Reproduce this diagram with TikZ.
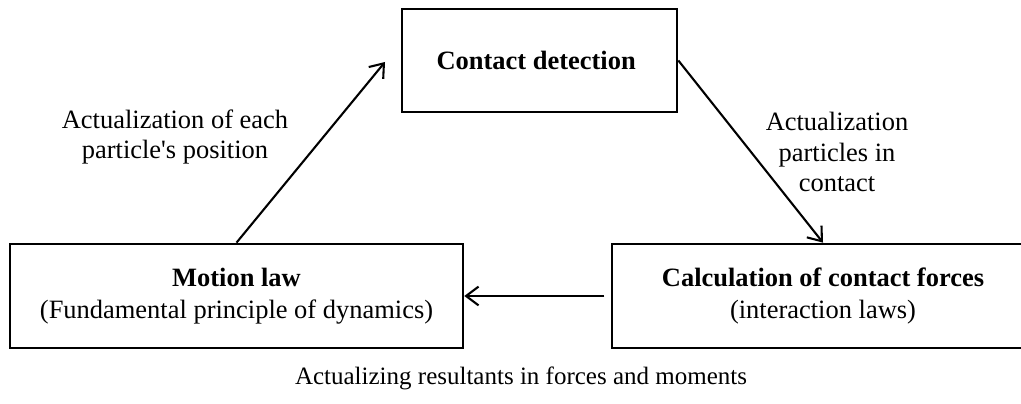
\documentclass[tikz,border=0pt]{standalone}
\usepackage{fontspec}
\setmainfont{Liberation Serif}
\usetikzlibrary{arrows.meta,positioning}

\tikzset{
    stagebox/.style={rectangle, draw=black, line width=1.3pt, align=center,
        font=\fontsize{12.7}{15.5}\selectfont, inner sep=0pt},
    flowlabel/.style={align=center, font=\fontsize{12.7}{14.6}\selectfont, inner sep=0pt},
    flowarrow/.style={line width=1pt, -{Straight Barb[length=6pt,width=9pt,line width=1pt]}}
}

\begin{document}
\begin{tikzpicture}[x=0.48pt, y=-0.48pt]
    \clip (0,0) rectangle (1021,404);

    % Contact detection
    \node[stagebox, minimum width=132pt, minimum height=49.4pt] (contact) at (539.5,60.5) {
        \textbf{Contact detection}
    };

    % Motion law
    \node[stagebox, minimum width=217.4pt, minimum height=49.9pt] (motion) at (236.5,296) {
        \textbf{Motion law}\\
        (Fundamental principle of dynamics)
    };

    % Calculation of contact forces
    \node[stagebox, minimum width=202.6pt, minimum height=49.9pt] (forces) at (823,296) {
        \textbf{Calculation of contact forces}\\
        (interaction laws)
    };

    % Connectors
    \coordinate (postip) at (385,62);
    \draw[flowarrow] (motion.north) -- (postip);
    \draw[flowarrow] (contact.east) -- (forces.north);
    \draw[flowarrow, shorten <=3pt] (forces.west) -- (motion.east);

    % Labels
    \node[flowlabel] (poslabel) at (175,137) {Actualization of each\\particle\textquotesingle s position};
    \node[flowlabel] (contactlabel) at (837,152) {Actualization\\particles in\\contact};
    \node[flowlabel, font=\fontsize{12}{14.4}\selectfont] (resultlabel) at (521,378) {Actualizing resultants in forces and moments};
\end{tikzpicture}
\end{document}
